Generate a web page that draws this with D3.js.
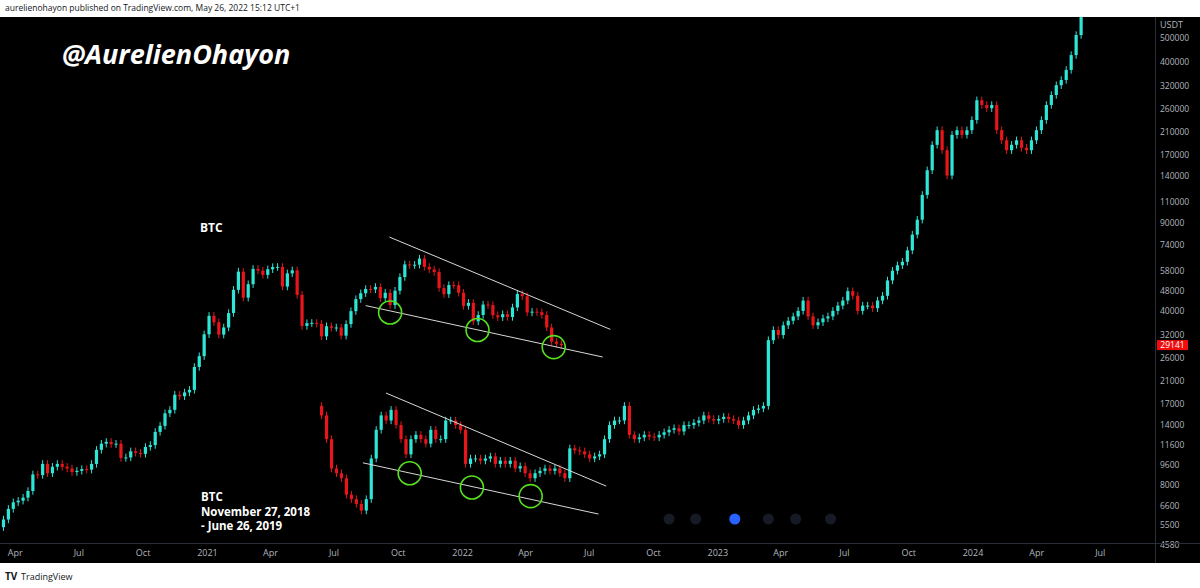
<!DOCTYPE html>
<html><head><meta charset="utf-8">
<script src="https://cdn.jsdelivr.net/npm/d3@7"></script>
<style>
body{margin:0;background:#fff;font-family:"Open Sans",sans-serif}
</style></head>
<body>
<svg id="chart" width="1200" height="588"></svg>
<script>
// weekly closes, BTC Mar 2020 - May 2022
let btcStart = "2020-03-16"
let btcOpen0 = 5400
let btcClose = [5800,6400,6800,6900,7100,7550,8800,8750,9700,8900,9450,9700,9450,9300,9000,9100,9250,9200,9700,11050,
  11700,11900,11650,11700,10250,10300,10900,10750,10650,11350,11550,13050,13800,15500,16000,18400,18150,18800,19250,23800,
  26300,32200,38200,36000,32100,34300,39200,48600,57500,45200,51200,59000,58100,55800,58800,60000,60100,50100,56600,58200,
  46400,34800,35700,35800,35500,31600,34700,34200,34300,31800,35400,39900,44600,47100,49000,48800,49900,45000,47300,42200,
  48200,54700,61500,61100,61300,64900,60100,58700,57300,49400,46700,50800,50700,47300,41900,43100,36300,38500,42400,42200,
  38400,37700,38800,37800,41300,46800,45800,39400,39700,39500,38500,34300,30100,29500,29141]

// 2018-2019 fractal pasted forward
let fracStart = "2021-06-14"
let fracStep = 7.1
let fracOpen0 = 16600
let fracClose = [15200,12200,9300,8900,8500,7300,7000,6700,6300,7000,10200,13300,15200,14500,16000,13900,12200,10600,12200,12700,
  12200,11700,13300,12200,12200,14500,14500,13900,13300,9700,10200,10200,10000,10200,10400,9700,10000,9700,10000,9300,
  9500,8900,8500,8900,9100,9300,9100,9300,8900,8500,11200,11000,10900,10600,10200,10400,10600,12200,13900,14500,
  14500,16600,12700,12200,12400,12700,12500,12400,12700,13000,13300,13500,13100,13900,13900,14200,14500,15200,14700,14500,
  14700,15000,14700,14500,13900,14500,15200,16000,16200,16600,30500,33500,32000,35000,36500,38000,40000,44000,38000,35000,
  36000,37300,38000,40000,42000,44000,48000,46000,40000,42000,42000,41000,44000,46000,53000,58000,61000,63000,70000,81000,
  93000,117000,147000,186000,213000,177000,140000,204000,213000,204000,213000,234000,281000,269000,261000,269000,213000,194000,177000,186000,
  194000,181000,177000,194000,213000,234000,269000,295000,323000,339000,372000,427000,514000,619000]

let priceTicks = [500000,400000,320000,260000,210000,170000,140000,110000,90000,74000,58000,48000,40000,32000,26000,21000,17000,14000,11600,9600,8000,6600,5500,4580]
let timeTicks = [["2020-04-01","Apr"],["2020-07-01","Jul"],["2020-10-01","Oct"],["2021-01-01","2021"],["2021-04-01","Apr"],["2021-07-01","Jul"],["2021-10-01","Oct"],["2022-01-01","2022"],["2022-04-01","Apr"],["2022-07-01","Jul"],["2022-10-01","Oct"],["2023-01-01","2023"],["2023-04-01","Apr"],["2023-07-01","Jul"],["2023-10-01","Oct"],["2024-01-01","2024"],["2024-04-01","Apr"],["2024-07-01","Jul"]]
let lastPrice = 29141

// wedge lines [date, price]
let trendLines = [
  [["2021-09-19",79200],["2022-08-01",33700]],
  [["2021-08-16",42000],["2022-07-21",26100]],
  [["2021-09-14",18700],["2022-07-26",7900]],
  [["2021-08-12",9800],["2022-07-15",6100]]
]
let circles = [["2021-09-20",39400],["2022-01-23",33500],["2022-05-12",28600],["2021-10-18",8900],["2022-01-15",7800],["2022-04-09",7200]]
let dots = ["2022-10-24","2022-12-01","2023-01-26","2023-03-15","2023-04-23","2023-06-12"]

const UP = "#2ee6d6", DOWN = "#e8161b"
const parse = d3.timeParse("%Y-%m-%d")
const svg = d3.select("#chart")
const plotTop = 17, plotBot = 543, plotRight = 1155

let x = d3.scaleTime().domain([parse("2020-03-11"), parse("2024-09-18")]).range([0, plotRight])
let y = d3.scaleLog().domain([500000, 4580]).range([38, 545])

svg.append("rect").attr("x",0).attr("y",plotTop).attr("width",1200).attr("height",plotBot-plotTop+20).attr("fill","#000")
svg.append("defs").append("clipPath").attr("id","clip")
  .append("rect").attr("x",0).attr("y",plotTop).attr("width",plotRight).attr("height",plotBot-plotTop)

function candles(start, step, open0, closes) {
  let s = parse(start)
  return closes.map((c, i) => ({date: new Date(+s + i*step*864e5), open: i ? closes[i-1] : open0, close: c}))
}
let all = candles(btcStart, 7, btcOpen0, btcClose).concat(candles(fracStart, fracStep, fracOpen0, fracClose))

let plot = svg.append("g").attr("clip-path","url(#clip)")
plot.selectAll("circle.d").data(dots).join("circle")
  .attr("cx", d => x(parse(d))).attr("cy", 519).attr("r",5.5)
  .attr("fill", (d,i) => i == 2 ? "#2962ff" : "#161a25")
let c = plot.selectAll("g.c").data(all).join("g")
c.append("line")
  .attr("x1", d => x(d.date)).attr("x2", d => x(d.date))
  .attr("y1", d => y(Math.max(d.open,d.close)*1.035)).attr("y2", d => y(Math.min(d.open,d.close)/1.035))
  .attr("stroke", d => d.close >= d.open ? UP : DOWN).attr("stroke-width",1)
c.append("rect")
  .attr("x", d => x(d.date)-1.6).attr("width",3.2)
  .attr("y", d => y(Math.max(d.open,d.close)))
  .attr("height", d => Math.max(1, y(Math.min(d.open,d.close)) - y(Math.max(d.open,d.close))))
  .attr("fill", d => d.close >= d.open ? UP : DOWN)

trendLines.forEach(l => plot.append("line")
  .attr("x1", x(parse(l[0][0]))).attr("y1", y(l[0][1]))
  .attr("x2", x(parse(l[1][0]))).attr("y2", y(l[1][1]))
  .attr("stroke","#d8d8d8").attr("stroke-width",1))
plot.selectAll("circle.g").data(circles).join("circle")
  .attr("cx", d => x(parse(d[0]))).attr("cy", d => y(d[1])).attr("r",11.5)
  .attr("fill","none").attr("stroke","#56e01e").attr("stroke-width",1.6)

// texts
svg.append("text").attr("x",62).attr("y",64).attr("fill","#fff").attr("font-size",27)
  .attr("font-weight","bold").attr("font-style","italic").text("@AurelienOhayon")
svg.append("text").attr("x",200).attr("y",232).attr("fill","#fff").attr("font-size",12).attr("font-weight","bold").text("BTC")
;["BTC","November 27, 2018","- June 26, 2019"].forEach((t,i) =>
  svg.append("text").attr("x",201).attr("y",501+i*14.5).attr("fill","#fff").attr("font-size",11.5).attr("font-weight","bold").text(t))

// price axis
svg.append("line").attr("x1",plotRight+.5).attr("x2",plotRight+.5).attr("y1",plotTop).attr("y2",563).attr("stroke","#2a2e39")
let ya = svg.append("g").attr("transform",`translate(${plotRight},0)`)
  .call(d3.axisRight(y).tickValues(priceTicks).tickFormat(d3.format("d")).tickSize(0).tickPadding(5))
ya.select(".domain").remove()
ya.selectAll("text").attr("fill","#b2b5be").attr("font-size",8.5).attr("font-family","Open Sans")
svg.append("text").attr("x",1160).attr("y",28).attr("fill","#b2b5be").attr("font-size",9).text("USDT")
svg.append("rect").attr("x",1157).attr("y",y(lastPrice)-5).attr("width",31).attr("height",10).attr("fill","#f20d0d")
svg.append("text").attr("x",1172.5).attr("y",y(lastPrice)+3).attr("text-anchor","middle").attr("fill","#fff").attr("font-size",8.5).text(d3.format("d")(lastPrice))

// time axis
svg.append("line").attr("x1",0).attr("x2",1200).attr("y1",plotBot+.5).attr("y2",plotBot+.5).attr("stroke","#2a2e39")
let xa = svg.append("g").attr("transform",`translate(0,${plotBot})`)
  .call(d3.axisBottom(x).tickValues(timeTicks.map(t => parse(t[0]))).tickFormat((d,i) => timeTicks[i][1]).tickSize(0).tickPadding(7))
xa.select(".domain").remove()
xa.selectAll("text").attr("fill","#b2b5be").attr("font-size",9).attr("font-family","Open Sans")

// header / footer
svg.append("text").attr("x",5).attr("y",11).attr("fill","#131722").attr("font-size",8.5)
  .text("aurelienohayon published on TradingView.com, May 26, 2022 15:12 UTC+1")
svg.append("text").attr("x",5).attr("y",580).attr("fill","#131722").attr("font-size",10).attr("font-weight","bold").text("TV")
svg.append("text").attr("x",21).attr("y",580).attr("fill","#131722").attr("font-size",9).text("TradingView")
</script>
</body></html>
